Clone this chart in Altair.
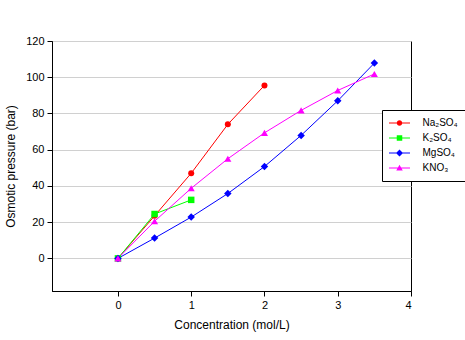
import altair as alt
import pandas as pd

series_names = ["Na₂SO₄", "K₂SO₄", "MgSO₄", "KNO₃"]
series_colors = ["#ff0000", "#00ff00", "#0000ff", "#ff00ff"]
series_shapes = ["circle", "square", "diamond", "triangle-up"]
series_sizes = [36, 42, 56, 50]

conc_na = [0, 0.5, 1, 1.5, 2]
p_na = [0, 23.5, 47, 74, 95.5]
conc_k = [0, 0.5, 1]
p_k = [0, 24.5, 32.3]
conc_mg = [0, 0.5, 1, 1.5, 2, 2.5, 3, 3.5]
p_mg = [0, 11.2, 22.8, 35.8, 50.7, 67.9, 87.0, 107.8]
conc_kno = [0, 0.5, 1, 1.5, 2, 2.5, 3, 3.5]
p_kno = [0, 20.5, 38.7, 55, 69.3, 81.7, 92.7, 101.8]

x_ticks = [0, 1, 2, 3, 4]
y_ticks = [0, 20, 40, 60, 80, 100, 120]

rows = []
for name, xs, ys in zip(series_names, [conc_na, conc_k, conc_mg, conc_kno],
                        [p_na, p_k, p_mg, p_kno]):
    for xv, yv in zip(xs, ys):
        rows.append({"series": name, "c": xv, "p": yv})
df = pd.DataFrame(rows)

# legend symbols: thin line with marker (custom paths, unit scale = sqrt(size)/2)
legend_paths = [
    "M-2.1,-0.1H2.1V0.1H-2.1ZM0.55,0A0.55,0.55 0 1,1 -0.55,0A0.55,0.55 0 1,1 0.55,0Z",
    "M-2.1,-0.1H2.1V0.1H-2.1ZM-0.55,-0.55H0.55V0.55H-0.55Z",
    "M-2.1,-0.1H2.1V0.1H-2.1ZM0,-0.7L0.7,0L0,0.7L-0.7,0Z",
    "M-2.1,-0.1H2.1V0.1H-2.1ZM0,-0.65L0.65,0.5L-0.65,0.5Z",
]

font = "Liberation Sans"

x_enc = alt.X("c:Q", title="Concentration (mol/L)",
              scale=alt.Scale(domain=[-0.9, 4], nice=False, zero=False),
              axis=alt.Axis(values=x_ticks, grid=False, format="d"))
y_enc = alt.Y("p:Q", title="Osmotic pressure (bar)",
              scale=alt.Scale(domain=[-18, 120], nice=False, zero=False),
              axis=alt.Axis(values=y_ticks, grid=True, format="d"))

base = alt.Chart(df)

leg = alt.Legend(
    title=None, orient="none", legendX=330, legendY=69, padding=8,
    strokeColor="black", fillColor="white", symbolSize=100, symbolOffset=4.5,
    labelOffset=18, labelFontSize=10, labelFont=font, labelColor="black",
    rowPadding=5, symbolOpacity=1, symbolStrokeWidth=0)

legend_layer = base.mark_point(filled=True, size=100, opacity=0).encode(
    x=x_enc, y=y_enc,
    color=alt.Color("series:N", scale=alt.Scale(domain=series_names, range=series_colors),
                    legend=leg),
    shape=alt.Shape("series:N", scale=alt.Scale(domain=series_names, range=legend_paths),
                    legend=leg),
)

line_layers = []
point_layers = []
for name, col, shp, sz in zip(series_names, series_colors, series_shapes, series_sizes):
    sub = base.transform_filter(alt.datum.series == name)
    line_layers.append(
        sub.mark_line(strokeWidth=1, color=col).encode(x=x_enc, y=y_enc, order=alt.Order("c:Q"))
    )
    point_layers.append(
        sub.mark_point(filled=True, size=sz, opacity=1, shape=shp, color=col)
        .encode(x=x_enc, y=y_enc)
    )

chart = alt.layer(legend_layer, *line_layers, *point_layers).properties(
    width=359, height=250,
    autosize=alt.AutoSizeParams(type="none"),
    padding={"left": 52, "top": 41, "right": 54, "bottom": 49},
).configure_view(
    stroke="black", strokeWidth=1
).configure_axis(
    domainColor="black", tickColor="black", tickSize=5,
    labelFont=font, labelFontSize=11, labelColor="black",
    titleFont=font, titleFontSize=12, titleFontWeight="normal", titleColor="black",
    gridColor="#d0d0d0", gridWidth=1,
).configure_axisX(
    labelPadding=3, titlePadding=9,
).configure_axisY(
    labelPadding=3, titlePadding=8,
)

chart.save("out.html", embed_options={"renderer": "svg", "actions": False})
